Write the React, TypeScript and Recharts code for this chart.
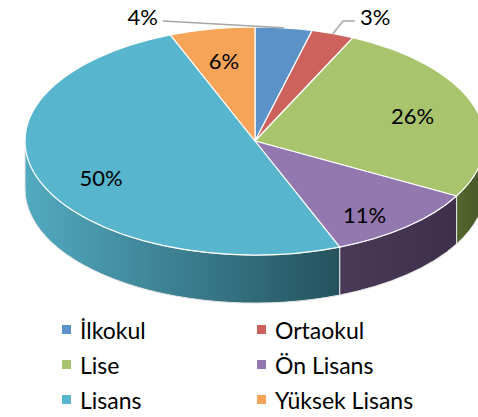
import { PieChart, Pie, Cell, Legend } from "recharts"

const categories = ["İlkokul", "Ortaokul", "Lise", "Ön Lisans", "Lisans", "Yüksek Lisans"]
const shares = [4, 3, 26, 11, 50, 6]
const topColors = ["#5B93C8", "#CD615C", "#A8C46C", "#9377AF", "#57B5CE", "#F6A458"]
const sideLight = ["#3F6890", "#8E3F3B", "#56672F", "#4A3A58", "#52AAC0", "#B2702E"]
const sideDark = ["#2F4F6E", "#6E2F2C", "#465425", "#3E2F4B", "#24525E", "#8A5622"]

const data = categories.map((name, i) => ({ name, value: shares[i] }))

const TILT = 0.496
const DEPTH = 48
const RAD = Math.PI / 180
const FONT = "Lato, 'Open Sans', sans-serif"

function ellipsePt(cx: number, cy: number, r: number, a: number, dy = 0) {
  return [cx + r * Math.cos(a * RAD), cy - r * TILT * Math.sin(a * RAD) + dy]
}

// top face of a slice, squashed into an ellipse
function TopFace(props: any) {
  const { cx, cy, outerRadius: r, startAngle, endAngle, fill } = props
  const ry = r * TILT
  const [x1, y1] = ellipsePt(cx, cy, r, startAngle)
  const [x2, y2] = ellipsePt(cx, cy, r, endAngle)
  const delta = endAngle - startAngle
  const large = Math.abs(delta) > 180 ? 1 : 0
  const sweep = delta < 0 ? 1 : 0
  return (
    <path
      d={`M${cx},${cy}L${x1},${y1}A${r},${ry} 0 ${large} ${sweep} ${x2},${y2}Z`}
      fill={fill}
      stroke="#ffffff"
      strokeWidth={1.2}
    />
  )
}

// visible front wall of a slice
function SideWall(props: any) {
  const { cx, cy, outerRadius: r, startAngle, endAngle, index } = props
  const ry = r * TILT
  const lo = Math.max(Math.min(startAngle, endAngle), -180)
  const hi = Math.min(Math.max(startAngle, endAngle), 0)
  if (lo >= hi) return <g />
  const [ax, ay] = ellipsePt(cx, cy, r, hi)
  const [bx, by] = ellipsePt(cx, cy, r, lo)
  const id = `side-grad-${index}`
  return (
    <g>
      <defs>
        <linearGradient id={id} x1="0" y1="0" x2="1" y2="0">
          <stop offset="0%" stopColor={sideLight[index]} />
          <stop offset="100%" stopColor={sideDark[index]} />
        </linearGradient>
      </defs>
      <path
        d={`M${ax},${ay}A${r},${ry} 0 0 1 ${bx},${by}L${bx},${by + DEPTH}A${r},${ry} 0 0 0 ${ax},${ay + DEPTH}Z`}
        fill={`url(#${id})`}
        stroke="#e4e4e4"
        strokeWidth={1}
      />
    </g>
  )
}

function renderLabel(props: any) {
  const { cx, cy, outerRadius: r, midAngle, percent } = props
  const text = `${Math.round(percent * 100)}%`
  if (percent < 0.05) {
    const [ax, ay] = ellipsePt(cx, cy, r, midAngle)
    const ly = cy - r * TILT - 10
    const goLeft = Math.cos(midAngle * RAD) < 0.2
    if (goLeft) {
      return (
        <g>
          <polyline points={`${ax},${ay} ${ax - 121},${ly + 4}`} fill="none" stroke="#a6a6a6" strokeWidth={1.5} />
          <text x={ax - 126} y={ly} textAnchor="end" dominantBaseline="central" fill="#000" fontSize={22} fontFamily={FONT}>
            {text}
          </text>
        </g>
      )
    }
    return (
      <g>
        <polyline
          points={`${ax},${ay} ${ax + 10},${ly + 4} ${ax + 22},${ly + 4}`}
          fill="none"
          stroke="#a6a6a6"
          strokeWidth={1.5}
        />
        <text x={ax + 27} y={ly} textAnchor="start" dominantBaseline="central" fill="#000" fontSize={22} fontFamily={FONT}>
          {text}
        </text>
      </g>
    )
  }
  // front labels sit a little lower, as the wall adds depth below them
  const s = Math.sin(midAngle * RAD)
  const [x, y] = ellipsePt(cx, cy, r * 0.72, midAngle, s < 0 ? -s * 16 : 0)
  return (
    <text x={x} y={y} textAnchor="middle" dominantBaseline="central" fill="#000" fontSize={22} fontFamily={FONT}>
      {text}
    </text>
  )
}

function renderLegend() {
  return (
    <div
      style={{
        display: "grid",
        gridTemplateColumns: "195px 195px",
        paddingLeft: 62,
        fontFamily: FONT,
        fontSize: 23,
        color: "#000",
      }}
    >
      {categories.map((name, i) => (
        <div key={name} style={{ display: "flex", alignItems: "center", height: 35 }}>
          <span style={{ width: 9, height: 9, background: topColors[i], marginRight: 9, display: "inline-block" }} />
          <span>{name}</span>
        </div>
      ))}
    </div>
  )
}

export default function App() {
  return (
    <div style={{ position: "absolute", left: 0, top: 0, width: 478, height: 417, background: "#fff" }}>
      <PieChart width={478} height={417}>
        <Pie
          data={data}
          dataKey="value"
          nameKey="name"
          cx={250}
          cy={136}
          outerRadius={230}
          startAngle={90}
          endAngle={-270}
          stroke="none"
          shape={SideWall}
          legendType="none"
          isAnimationActive={false}
        >
          {data.map((d, i) => (
            <Cell key={d.name} fill={sideDark[i]} />
          ))}
        </Pie>
        <Pie
          data={data}
          dataKey="value"
          nameKey="name"
          cx={250}
          cy={136}
          outerRadius={230}
          startAngle={90}
          endAngle={-270}
          stroke="#fff"
          shape={TopFace}
          label={renderLabel}
          labelLine={false}
          isAnimationActive={false}
        >
          {data.map((d, i) => (
            <Cell key={d.name} fill={topColors[i]} />
          ))}
        </Pie>
        <Legend content={renderLegend} wrapperStyle={{ position: "absolute", top: 312, left: 0, width: 478 }} />
      </PieChart>
    </div>
  )
}
